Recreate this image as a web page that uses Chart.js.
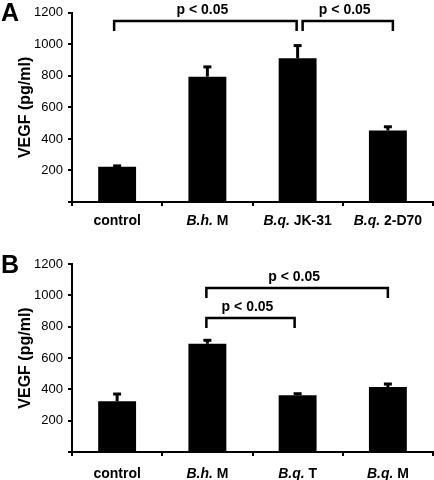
<!DOCTYPE html>
<html>
<head>
<meta charset="utf-8">
<script src="https://cdn.jsdelivr.net/npm/chart.js@4.4.1/dist/chart.umd.min.js"></script>
<style>
  html, body { margin: 0; padding: 0; background: #fff; }
  #wrap { position: relative; width: 434px; height: 480px; }
  canvas { position: absolute; left: 0; }
  .letter { position: absolute; left: 1px; font: bold 25px "Liberation Sans", Arial, sans-serif; color: #000; line-height: 25px; }
</style>
</head>
<body>
<div id="wrap">
  <canvas id="chartA" width="434" height="240" style="top:0"></canvas>
  <canvas id="chartB" width="434" height="240" style="top:240px"></canvas>
  <div class="letter" style="top:0px">A</div>
  <div class="letter" style="top:252px">B</div>
</div>
<script>
// categories: [italic part, plain part]
const categoriesA = [['', 'control'], ['B.h.', ' M'], ['B.q.', ' JK-31'], ['B.q.', ' 2-D70']];
const categoriesB = [['', 'control'], ['B.h.', ' M'], ['B.q.', ' T'], ['B.q.', ' M']];

// VEGF means and SEM (pg/ml)
const valuesA = [224, 795, 912, 453];
const errorsA = [5, 62, 80, 24];
const valuesB = [324, 691, 362, 415];
const errorsB = [46, 22, 10, 19];

// significance brackets: [from index, to index, bracket top value]
const bracketsA = [[0, 2, 1148], [2, 3, 1148]];
const bracketsB = [[1, 2, 857], [1, 3, 1044]];
const pLabelsA = ['p < 0.05', 'p < 0.05'];
const pLabelsB = ['p < 0.05', 'p < 0.05'];

const yTicks = [0, 200, 400, 600, 800, 1000, 1200];

const FONT = '"Liberation Sans", Arial, Helvetica, sans-serif';

// draws error bars, brackets and the mixed-style x labels
const annotations = {
    id: 'annotations',
    afterDatasetsDraw(chart, args, opts) {
        const ctx = chart.ctx;
        const x = chart.scales.x;
        const y = chart.scales.y;
        const meta = chart.getDatasetMeta(0);
        const values = chart.data.datasets[0].data;

        ctx.save();
        ctx.strokeStyle = '#000';
        ctx.lineCap = 'butt';

        // error bars (upper only)
        meta.data.forEach((bar, i) => {
            const top = y.getPixelForValue(values[i] + opts.errors[i]);
            ctx.lineWidth = 3;
            ctx.beginPath();
            ctx.moveTo(bar.x, bar.y);
            ctx.lineTo(bar.x, top);
            ctx.stroke();
            ctx.lineWidth = 3;
            ctx.beginPath();
            ctx.moveTo(bar.x - 4, top);
            ctx.lineTo(bar.x + 4, top);
            ctx.stroke();
        });

        // brackets
        ctx.lineWidth = 2.5;
        ctx.fillStyle = '#000';
        ctx.font = 'bold 14px ' + FONT;
        ctx.textAlign = 'center';
        ctx.textBaseline = 'alphabetic';
        opts.brackets.forEach((b, i) => {
            const nudge = opts.nudges[i];
            const x1 = x.getPixelForValue(b[0]) + nudge[0];
            const x2 = x.getPixelForValue(b[1]) + nudge[1];
            const yt = Math.round(y.getPixelForValue(b[2]));
            ctx.beginPath();
            ctx.moveTo(x1, yt + 10);
            ctx.lineTo(x1, yt);
            ctx.lineTo(x2, yt);
            ctx.lineTo(x2, yt + 10);
            ctx.stroke();
            ctx.fillText(opts.labels[i], (x1 + x2) / 2 - 3, yt - 7);
        });

        // x labels with italic genus part
        ctx.textAlign = 'left';
        ctx.textBaseline = 'middle';
        opts.categories.forEach((parts, i) => {
            ctx.font = 'italic bold 14px ' + FONT;
            const w1 = ctx.measureText(parts[0]).width;
            ctx.font = 'bold 14px ' + FONT;
            const w2 = ctx.measureText(parts[1]).width;
            let left = x.getPixelForValue(i) - (w1 + w2) / 2;
            ctx.font = 'italic bold 14px ' + FONT;
            ctx.fillText(parts[0], left, x.bottom - opts.labelOffset);
            ctx.font = 'bold 14px ' + FONT;
            ctx.fillText(parts[1], left + w1, x.bottom - opts.labelOffset);
        });
        ctx.restore();
    }
};

function makeChart(id, categories, values, errors, brackets, labels, nudges, padTop, xHeight, labelOffset) {
    return new Chart(document.getElementById(id), {
        type: 'bar',
        data: {
            labels: categories.map(p => p.join('')),
            datasets: [{
                data: values,
                backgroundColor: '#000',
                borderWidth: 0,
                barPercentage: 0.42,
                categoryPercentage: 1
            }]
        },
        options: {
            responsive: false,
            animation: false,
            devicePixelRatio: 1,
            layout: { padding: { top: padTop, right: 1, bottom: 0, left: 0 } },
            plugins: {
                legend: { display: false },
                tooltip: { enabled: false },
                annotations: {
                    errors: errors,
                    brackets: brackets,
                    labels: labels,
                    nudges: nudges,
                    categories: categories,
                    labelOffset: labelOffset
                }
            },
            scales: {
                x: {
                    border: { color: '#000', width: 2 },
                    grid: { offset: true, drawOnChartArea: false, drawTicks: true, tickLength: 4, color: '#000', lineWidth: 2 },
                    ticks: { display: false },
                    afterFit: s => { s.height = xHeight; }
                },
                y: {
                    min: 0,
                    max: 1200,
                    afterBuildTicks: s => { s.ticks = yTicks.map(v => ({ value: v })); },
                    border: { color: '#000', width: 2 },
                    grid: { drawOnChartArea: false, drawTicks: true, tickLength: 4, color: '#000', lineWidth: 2 },
                    ticks: {
                        color: '#000',
                        padding: 5,
                        font: { family: FONT, size: 13 },
                        callback: v => (v === 0 ? '' : v)
                    },
                    title: {
                        display: true,
                        text: 'VEGF (pg/ml)',
                        color: '#000',
                        font: { family: FONT, size: 16, weight: 'bold' },
                        padding: { top: 16, bottom: 0 }
                    },
                    afterFit: s => { s.width = 72; }
                }
            }
        },
        plugins: [annotations]
    });
}

makeChart('chartA', categoriesA, valuesA, errorsA, bracketsA, pLabelsA, [[-3, -1], [5, 5]], 12, 38, 19);
makeChart('chartB', categoriesB, valuesB, errorsB, bracketsB, pLabelsB, [[-1, -3], [-1, 0]], 24, 28, 6);
</script>
</body>
</html>
